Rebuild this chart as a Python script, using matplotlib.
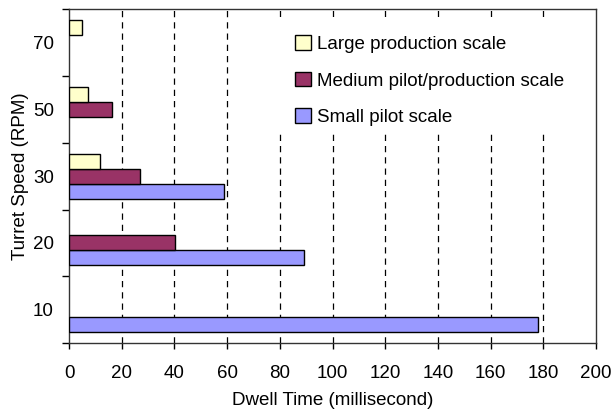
import numpy as np
import matplotlib.pyplot as plt
from matplotlib.patches import Rectangle

# Turret speeds (RPM), bottom to top
speeds = ['10', '20', '30', '50', '70']

# Dwell time (millisecond) per scale; None = no bar
small_pilot = [178, 89, 59, None, None]
medium_pilot = [None, 40.4, 27, 16.2, None]
large_production = [None, None, 11.8, 7.1, 5.0]

plt.rcParams['font.family'] = ['Liberation Sans', 'DejaVu Sans']
plt.rcParams['font.size'] = 13.5

fig = plt.figure(figsize=(6.14, 4.09), dpi=100)
ax = fig.add_axes([0.1124, 0.1614, 0.8583, 0.8156])

y = np.arange(len(speeds))
h = 0.2256


def vals(series):
    return [np.nan if v is None else v for v in series]


ax.barh(y - h, vals(small_pilot), height=h, color='#9999FF',
        edgecolor='black', linewidth=1, label='Small pilot scale', zorder=3)
ax.barh(y, vals(medium_pilot), height=h, color='#993366',
        edgecolor='black', linewidth=1, label='Medium pilot/production scale', zorder=3)
ax.barh(y + h, vals(large_production), height=h, color='#FFFFCC',
        edgecolor='black', linewidth=1, label='Large production scale', zorder=3)

ax.set_xlim(0, 200)
ax.set_ylim(-0.5, len(speeds) - 0.5)
ax.set_xticks(np.arange(0, 201, 20))

# tick marks on category boundaries, labels at category centres
ax.set_yticks(np.arange(-0.5, len(speeds), 1.0))
ax.set_yticklabels([])
ax.set_yticks(y, minor=True)
ax.set_yticklabels(speeds, minor=True)
ax.tick_params(axis='y', which='major', length=5, width=1, direction='out')
ax.tick_params(axis='y', which='minor', length=0, pad=11)
ax.tick_params(axis='x', length=4, width=1, direction='out', pad=11.5)

# dashed vertical gridlines
for gx in range(20, 200, 20):
    ax.axvline(gx, color='black', linewidth=0.9, dashes=(5, 4), zorder=1)

for s in ax.spines.values():
    s.set_color('#333333')
    s.set_linewidth(1)

# white legend area hiding the gridlines behind it
ax.add_patch(Rectangle((0.381, 0.629), 0.619, 0.347, transform=ax.transAxes,
                       facecolor='white', edgecolor='none', zorder=2))

handles, labels = ax.get_legend_handles_labels()
ax.legend(handles[::-1], labels[::-1], loc='upper left',
          bbox_to_anchor=(286 / 614, 1 - 26 / 409), bbox_transform=fig.transFigure,
          frameon=False, borderpad=0, handlelength=0.85, handleheight=0.85,
          handletextpad=0.3, labelspacing=0.97, fontsize=13.5)

ax.set_xlabel('Dwell Time (millisecond)', labelpad=7.5)
ax.set_ylabel('Turret Speed (RPM)', labelpad=3)

fig.savefig('out.png', dpi=100)
